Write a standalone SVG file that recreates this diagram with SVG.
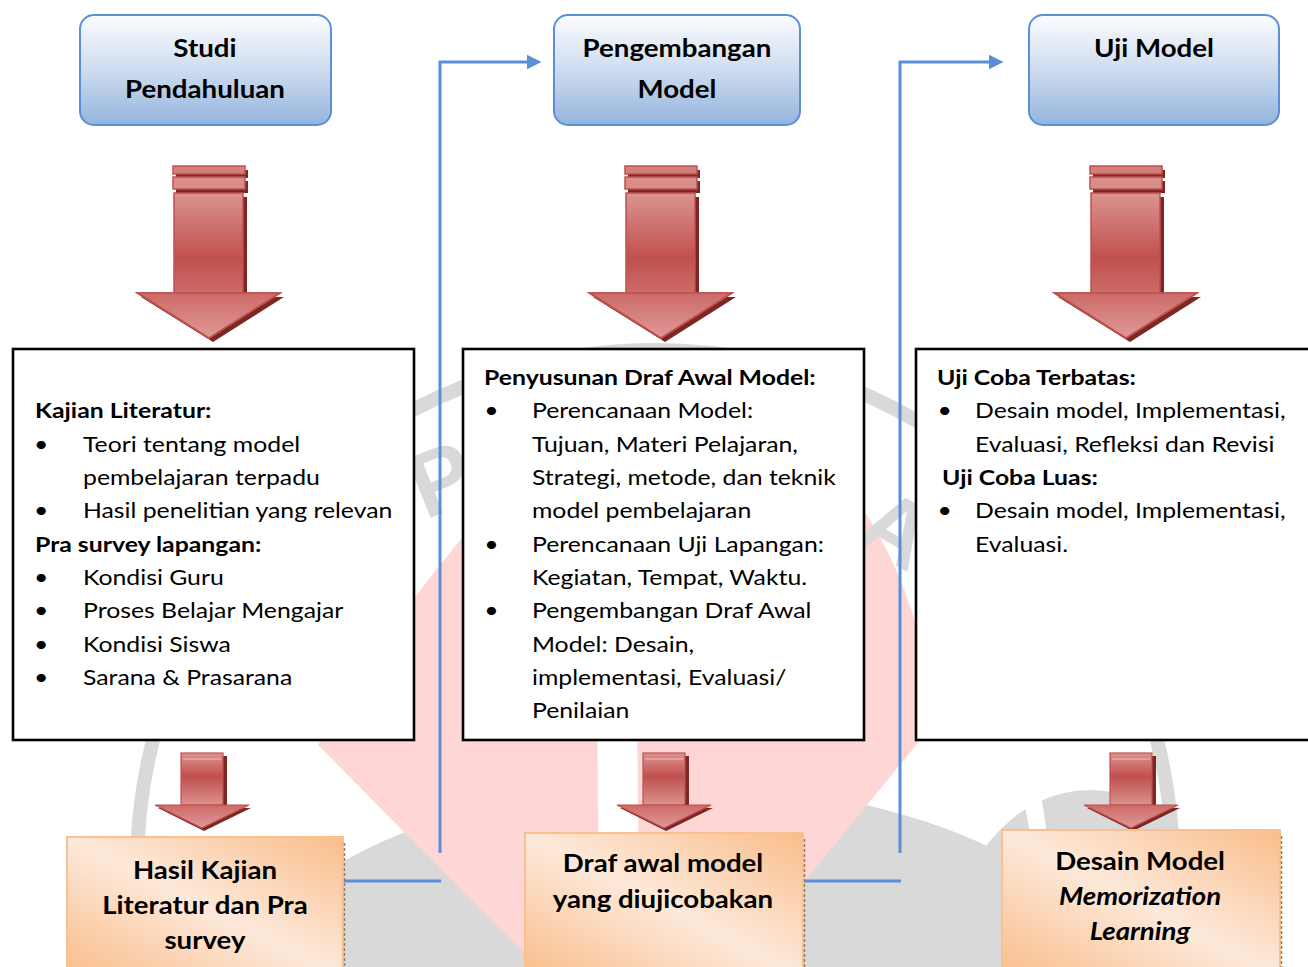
<svg xmlns="http://www.w3.org/2000/svg" width="1308" height="967" viewBox="0 0 1308 967">
<defs>
<style>
.t{font-family:Lato,"Open Sans","Liberation Sans",sans-serif;fill:#000}
.body{font-size:21.5px}
.bold{font-weight:bold}
.title{font-size:24.5px;font-weight:bold;text-anchor:middle}
.res{font-size:25px;font-weight:bold;text-anchor:middle}
.top{fill:url(#blueG);stroke:#5b8fd6;stroke-width:2}
.cont{fill:#fff;stroke:#000;stroke-width:2.6}
.bot{fill:url(#orG);stroke:#fac08f;stroke-width:2}
.conn{fill:none;stroke:#5a8fd6;stroke-width:3}
.wm{fill:#d9d9d9}
</style>
<linearGradient id="blueG" x1="0" y1="0" x2="0" y2="1">
<stop offset="0" stop-color="#fbfcff"/><stop offset="0.45" stop-color="#d3e0f1"/><stop offset="1" stop-color="#94b4de"/>
</linearGradient>
<linearGradient id="orG" x1="1" y1="0" x2="0" y2="1">
<stop offset="0" stop-color="#f9bd8a"/><stop offset="0.5" stop-color="#fde9da"/><stop offset="1" stop-color="#f9bd8a"/>
</linearGradient>
<linearGradient id="redG" x1="0" y1="0" x2="0" y2="1">
<stop offset="0" stop-color="#dc9391"/><stop offset="0.45" stop-color="#c0504d"/><stop offset="0.8" stop-color="#d07a77"/><stop offset="1" stop-color="#dc9391"/>
</linearGradient>
<linearGradient id="redH" x1="0" y1="0" x2="0" y2="1">
<stop offset="0" stop-color="#cd6a67"/><stop offset="1" stop-color="#df9997"/>
</linearGradient>
<marker id="ah" viewBox="0 0 10 10" refX="1" refY="5" markerWidth="5" markerHeight="5" orient="auto" markerUnits="strokeWidth">
<path d="M0,0 L10,5 L0,10 z" fill="#5a8fd6"/>
</marker>
<g id="bigArrow">
<rect x="-33" y="170" width="72" height="8" fill="#7c2724"/>
<rect x="-33" y="181" width="72" height="12" fill="#7c2724"/>
<polygon points="-32,197 38,197 38,297 75,297 4,342 -68,297 -32,297" fill="#7c2724"/>
<rect x="-36" y="166" width="72" height="8" fill="#d47f7c" stroke="#c0504d" stroke-width="1.5"/>
<rect x="-36" y="177" width="72" height="12" fill="#d88d8b" stroke="#c0504d" stroke-width="1.5"/>
<polygon points="-35,193 34,193 34,293 71,293 0,338 -72,293 -35,293" fill="url(#redG)" stroke="#c0504d" stroke-width="1.5"/>
<polygon points="-71,293 71,293 0,338" fill="url(#redH)" stroke="#c0504d" stroke-width="1.5"/>
</g>
<g id="smallArrow">
<rect x="-19" y="756" width="44" height="52" fill="#7c2724"/>
<polygon points="-44,808 49,808 2,831" fill="#7c2724"/>
<rect x="-21" y="753" width="42" height="52" fill="url(#redG)" stroke="#c0504d" stroke-width="1.2"/>
<line x1="-19" y1="759" x2="19" y2="759" stroke="#e6aaa8" stroke-width="1.5"/>
<polygon points="-47,805 47,805 0,828" fill="url(#redH)" stroke="#c0504d" stroke-width="1.2"/>
</g>
</defs>

<rect width="1308" height="967" fill="#fff"/>

<g id="watermark">
<ellipse class="wm" cx="680" cy="1000" rx="440" ry="215"/>
<ellipse class="wm" cx="1090" cy="960" rx="140" ry="170"/>
<path d="M1022,792 C1035,850 1040,910 1036,967 L1052,967 C1056,905 1050,845 1040,790 Z" fill="#fff"/>
<path d="M630,360 Q900,420 935,722 L740,960 L655,1085 L318,745 Q420,560 630,360 Z" fill="#ffd6d6"/>
<polygon points="596,600 636,600 640,1000 600,1000" fill="#fff"/>
<circle cx="655" cy="868" r="518" fill="none" stroke="#d9d9d9" stroke-width="14"/>
<text x="0" y="0" transform="translate(425,520) rotate(-22)" font-family="Liberation Sans,sans-serif" font-weight="bold" font-size="92" fill="#d9d9d9">P</text>
<text x="0" y="0" transform="translate(852,540) rotate(30)" font-family="Liberation Sans,sans-serif" font-weight="bold" font-size="92" fill="#d9d9d9">A</text>
</g>

<g id="connectors">
<line class="conn" x1="343" y1="881" x2="441" y2="881" stroke-width="4"/>
<polyline class="conn" points="440,853 440,62 528,62" stroke-width="3" marker-end="url(#ah)"/>
<line class="conn" x1="803" y1="881" x2="901" y2="881" stroke-width="4"/>
<polyline class="conn" points="900,853 900,62 990,62" stroke-width="3" marker-end="url(#ah)"/>
</g>

<g id="arrows">
<use href="#bigArrow" x="209" y="0"/>
<use href="#bigArrow" x="661" y="0"/>
<use href="#bigArrow" x="1126" y="0"/>
<use href="#smallArrow" x="202" y="0"/>
<use href="#smallArrow" x="664" y="0"/>
<use href="#smallArrow" x="1131" y="0"/>
</g>

<g id="studi-pendahuluan">
<rect class="top" x="80" y="15" width="251" height="110" rx="14"/>
<g transform="scale(1.13,1)">
<text class="t title" x="181.4" y="57">Studi</text>
<text class="t title" x="181.4" y="98">Pendahuluan</text>
</g>
</g>
<g id="pengembangan-model">
<rect class="top" x="554" y="15" width="246" height="110" rx="14"/>
<g transform="scale(1.13,1)">
<text class="t title" x="599.1" y="57">Pengembangan</text>
<text class="t title" x="599.1" y="98">Model</text>
</g>
</g>
<g id="uji-model">
<rect class="top" x="1029" y="15" width="250" height="110" rx="14"/>
<g transform="scale(1.13,1)">
<text class="t title" x="1021.2" y="57">Uji Model</text>
</g>
</g>

<g id="kajian-box">
<rect class="cont" x="13" y="349" width="401" height="391"/>
<g class="t body" transform="scale(1.153,1)">
<text class="bold" x="30.4" y="418">Kajian Literatur:</text>
<text x="29.5" y="452">•</text><text x="72" y="452">Teori tentang model</text>
<text x="72" y="485">pembelajaran terpadu</text>
<text x="29.5" y="518">•</text><text x="72" y="518">Hasil penelitian yang relevan</text>
<text class="bold" x="30.4" y="552">Pra survey lapangan:</text>
<text x="29.5" y="585">•</text><text x="72" y="585">Kondisi Guru</text>
<text x="29.5" y="618">•</text><text x="72" y="618">Proses Belajar Mengajar</text>
<text x="29.5" y="652">•</text><text x="72" y="652">Kondisi Siswa</text>
<text x="29.5" y="685">•</text><text x="72" y="685">Sarana &amp; Prasarana</text>
</g>
</g>

<g id="penyusunan-box">
<rect class="cont" x="463" y="349" width="401" height="391"/>
<g class="t body" transform="scale(1.153,1)">
<text class="bold" x="419.8" y="385">Penyusunan Draf Awal Model:</text>
<text x="420" y="418">•</text><text x="461.4" y="418">Perencanaan Model:</text>
<text x="461.4" y="452">Tujuan, Materi Pelajaran,</text>
<text x="461.4" y="485">Strategi, metode, dan teknik</text>
<text x="461.4" y="518">model pembelajaran</text>
<text x="420" y="552">•</text><text x="461.4" y="552">Perencanaan Uji Lapangan:</text>
<text x="461.4" y="585">Kegiatan, Tempat, Waktu.</text>
<text x="420" y="618">•</text><text x="461.4" y="618">Pengembangan Draf Awal</text>
<text x="461.4" y="652">Model: Desain,</text>
<text x="461.4" y="685">implementasi, Evaluasi/</text>
<text x="461.4" y="718">Penilaian</text>
</g>
</g>

<g id="uji-coba-box">
<rect class="cont" x="916" y="349" width="400" height="391"/>
<g class="t body" transform="scale(1.153,1)">
<text class="bold" x="812.7" y="385">Uji Coba Terbatas:</text>
<text x="813" y="418">•</text><text x="845.6" y="418">Desain model, Implementasi,</text>
<text x="845.6" y="452">Evaluasi, Refleksi dan Revisi</text>
<text class="bold" x="817" y="485">Uji Coba Luas:</text>
<text x="813" y="518">•</text><text x="845.6" y="518">Desain model, Implementasi,</text>
<text x="845.6" y="552">Evaluasi.</text>
</g>
</g>

<g id="hasil-kajian">
<rect class="bot" x="67" y="837" width="276" height="140"/>
<line x1="344.5" y1="843" x2="344.5" y2="967" stroke="#9c7a5c" stroke-width="1.5" stroke-dasharray="3 2"/>
<g transform="scale(1.105,1)">
<text class="t res" x="185.5" y="879">Hasil Kajian</text>
<text class="t res" x="185.5" y="914">Literatur dan Pra</text>
<text class="t res" x="185.5" y="949">survey</text>
</g>
</g>
<g id="draf-awal">
<rect class="bot" x="525" y="833" width="278" height="144"/>
<line x1="804.5" y1="839" x2="804.5" y2="967" stroke="#9c7a5c" stroke-width="1.5" stroke-dasharray="3 2"/>
<g transform="scale(1.105,1)">
<text class="t res" x="600" y="872">Draf awal model</text>
<text class="t res" x="600" y="908">yang diujicobakan</text>
</g>
</g>
<g id="desain-model">
<rect class="bot" x="1002" y="830" width="278" height="147"/>
<line x1="1281.5" y1="836" x2="1281.5" y2="967" stroke="#9c7a5c" stroke-width="1.5" stroke-dasharray="3 2"/>
<g transform="scale(1.105,1)">
<text class="t res" x="1031.7" y="870">Desain Model</text>
<text class="t res" x="1031.7" y="905" font-style="italic">Memorization</text>
<text class="t res" x="1031.7" y="940" font-style="italic">Learning</text>
</g>
</g>
</svg>
